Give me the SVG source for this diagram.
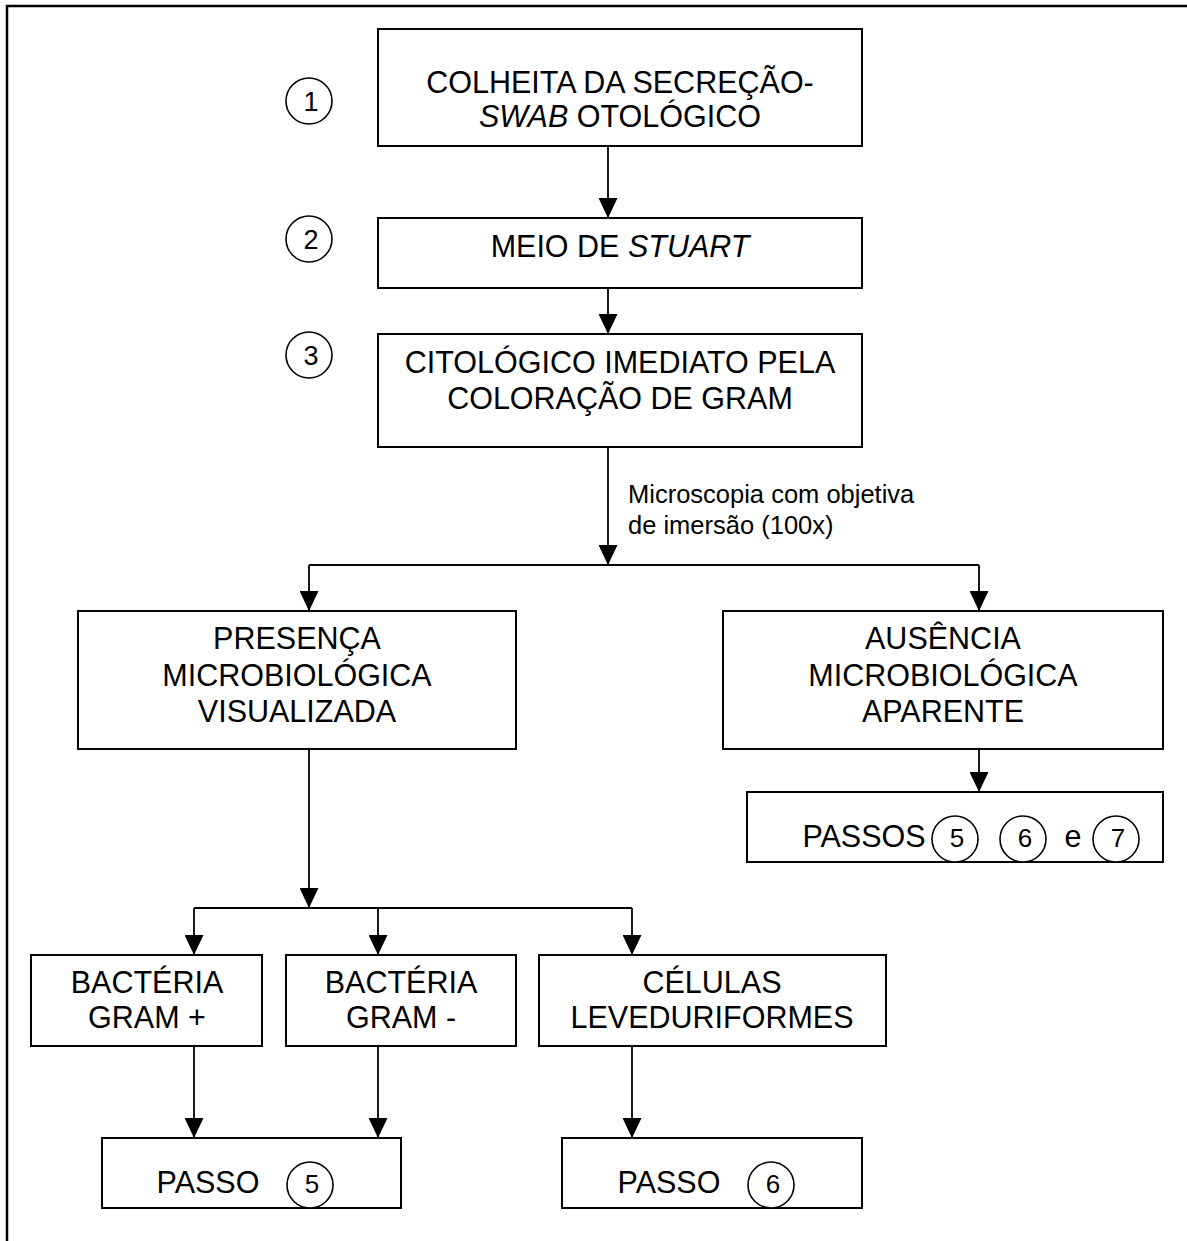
<svg xmlns="http://www.w3.org/2000/svg" width="1187" height="1241" viewBox="0 0 1187 1241">
<style>
.box{fill:#fff;stroke:#000;stroke-width:2}
.t{font-family:"Liberation Sans",Arial,sans-serif;font-size:30.5px;fill:#000;text-anchor:middle}
.num{font-family:"Liberation Sans",Arial,sans-serif;font-size:27px;fill:#000;text-anchor:middle}
.snum{font-family:"Liberation Sans",Arial,sans-serif;font-size:26px;fill:#000;text-anchor:middle}
.circ{fill:#fff;stroke:#000;stroke-width:1.6}
.lbl{font-family:"Liberation Sans",Arial,sans-serif;font-size:25.5px;fill:#000}
.ln{fill:none;stroke:#000;stroke-width:1.8}
.arr{fill:none;stroke:#000;stroke-width:1.8;marker-end:url(#ah)}
</style>
<defs>
<marker id="ah" markerUnits="userSpaceOnUse" markerWidth="20" markerHeight="19" refX="20" refY="9.5" orient="auto">
<path d="M0,0 L20,9.5 L0,19 z" fill="#000"/>
</marker>
</defs>
<rect width="1187" height="1241" fill="#fff"/>
<path d="M7,1241 V6 H1187" fill="none" stroke="#000" stroke-width="2.5"/>

<g id="connectors">
<line class="arr" x1="608" y1="146" x2="608" y2="218"/>
<line class="arr" x1="608" y1="288" x2="608" y2="334"/>
<line class="arr" x1="608" y1="447" x2="608" y2="565"/>
<line class="ln" x1="309" y1="565" x2="979" y2="565"/>
<line class="arr" x1="309" y1="565" x2="309" y2="611"/>
<line class="arr" x1="979" y1="565" x2="979" y2="611"/>
<line class="arr" x1="979" y1="749" x2="979" y2="792"/>
<line class="arr" x1="309" y1="749" x2="309" y2="908"/>
<line class="ln" x1="194" y1="908" x2="632" y2="908"/>
<line class="arr" x1="194" y1="908" x2="194" y2="955"/>
<line class="arr" x1="378" y1="908" x2="378" y2="955"/>
<line class="arr" x1="632" y1="908" x2="632" y2="955"/>
<line class="arr" x1="194" y1="1046" x2="194" y2="1138"/>
<line class="arr" x1="378" y1="1046" x2="378" y2="1138"/>
<line class="arr" x1="632" y1="1046" x2="632" y2="1138"/>
<text class="lbl" x="628" y="503">Microscopia com objetiva</text>
<text class="lbl" x="628" y="534">de imersão (100x)</text>
</g>

<g id="step1">
<circle class="circ" cx="309" cy="101" r="23"/>
<text class="num" x="311" y="111">1</text>
</g>
<g id="step2">
<circle class="circ" cx="309" cy="239" r="23"/>
<text class="num" x="311" y="249">2</text>
</g>
<g id="step3">
<circle class="circ" cx="309" cy="355" r="23"/>
<text class="num" x="311" y="365">3</text>
</g>

<g id="colheita">
<rect class="box" x="378" y="29" width="484" height="117"/>
<text class="t" x="620" y="93">COLHEITA DA SECREÇÃO-</text>
<text class="t" x="620" y="127"><tspan font-style="italic">SWAB</tspan> OTOLÓGICO</text>
</g>

<g id="meio">
<rect class="box" x="378" y="218" width="484" height="70"/>
<text class="t" x="620" y="257">MEIO DE <tspan font-style="italic">STUART</tspan></text>
</g>

<g id="citologico">
<rect class="box" x="378" y="334" width="484" height="113"/>
<text class="t" x="620" y="373">CITOLÓGICO IMEDIATO PELA</text>
<text class="t" x="620" y="409">COLORAÇÃO DE GRAM</text>
</g>

<g id="presenca">
<rect class="box" x="78" y="611" width="438" height="138"/>
<text class="t" x="297" y="649">PRESENÇA</text>
<text class="t" x="297" y="686">MICROBIOLÓGICA</text>
<text class="t" x="297" y="722">VISUALIZADA</text>
</g>

<g id="ausencia">
<rect class="box" x="723" y="611" width="440" height="138"/>
<text class="t" x="943" y="649">AUSÊNCIA</text>
<text class="t" x="943" y="686">MICROBIOLÓGICA</text>
<text class="t" x="943" y="722">APARENTE</text>
</g>

<g id="passos567">
<rect class="box" x="747" y="792" width="416" height="70"/>
<text class="t" x="864" y="847">PASSOS</text>
<circle class="circ" cx="955" cy="839" r="23"/>
<text class="snum" x="957" y="847">5</text>
<circle class="circ" cx="1023" cy="839" r="23"/>
<text class="snum" x="1025" y="847">6</text>
<text class="t" x="1073" y="847">e</text>
<circle class="circ" cx="1116" cy="839" r="23"/>
<text class="snum" x="1118" y="847">7</text>
</g>

<g id="grampos">
<rect class="box" x="31" y="955" width="231" height="91"/>
<text class="t" x="147" y="993">BACTÉRIA</text>
<text class="t" x="147" y="1028">GRAM +</text>
</g>

<g id="gramneg">
<rect class="box" x="286" y="955" width="230" height="91"/>
<text class="t" x="401" y="993">BACTÉRIA</text>
<text class="t" x="401" y="1028">GRAM -</text>
</g>

<g id="leveduras">
<rect class="box" x="539" y="955" width="347" height="91"/>
<text class="t" x="712" y="993">CÉLULAS</text>
<text class="t" x="712" y="1028">LEVEDURIFORMES</text>
</g>

<g id="passo5">
<rect class="box" x="102" y="1138" width="299" height="70"/>
<text class="t" x="208" y="1193">PASSO</text>
<circle class="circ" cx="310" cy="1185" r="23"/>
<text class="snum" x="312" y="1193">5</text>
</g>

<g id="passo6">
<rect class="box" x="562" y="1138" width="300" height="70"/>
<text class="t" x="669" y="1193">PASSO</text>
<circle class="circ" cx="771" cy="1185" r="23"/>
<text class="snum" x="773" y="1193">6</text>
</g>
</svg>
